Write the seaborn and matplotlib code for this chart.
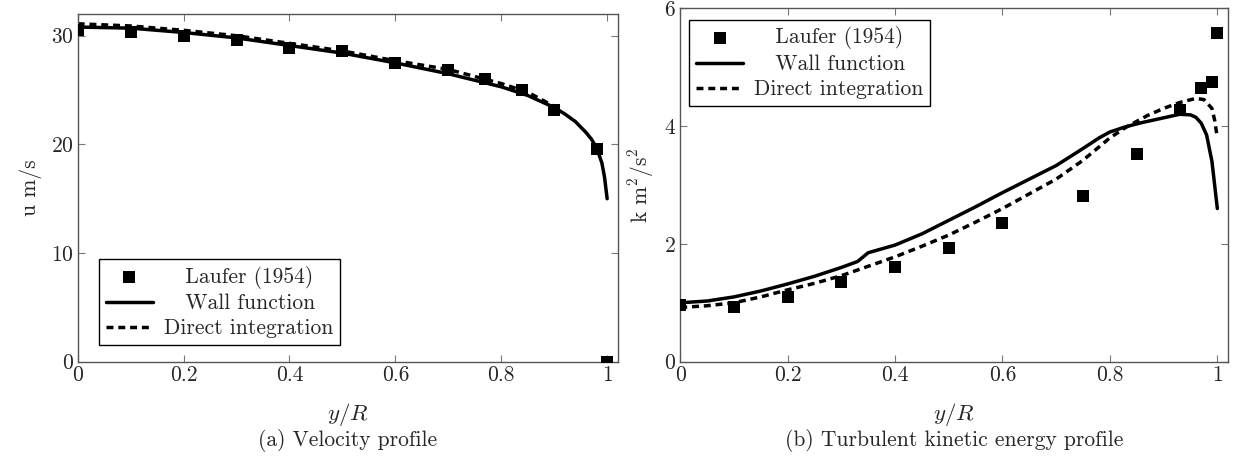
import numpy as np
import pandas as pd
import seaborn as sns
import matplotlib.pyplot as plt

# velocity profile (a)
u_exp_x = [0.0, 0.1, 0.2, 0.3, 0.4, 0.5, 0.6, 0.7, 0.77, 0.84, 0.9, 0.98, 1.0]
u_exp_y = [30.5, 30.3, 30.0, 29.6, 28.9, 28.6, 27.5, 26.8, 26.0, 25.0, 23.2, 19.6, 0.0]
u_wall_x = [0.0, 0.1, 0.2, 0.3, 0.4, 0.5, 0.6, 0.7, 0.8, 0.85, 0.9, 0.92, 0.94, 0.96, 0.97, 0.98, 0.99, 0.995, 1.0]
u_wall_y = [30.8, 30.7, 30.3, 29.8, 29.1, 28.4, 27.5, 26.5, 25.3, 24.5, 23.4, 22.8, 22.1, 21.1, 20.5, 19.7, 18.3, 17.0, 15.0]
u_di_x = [0.0, 0.1, 0.2, 0.3, 0.4, 0.5, 0.6, 0.7, 0.8, 0.85, 0.9]
u_di_y = [31.1, 30.9, 30.5, 30.0, 29.3, 28.6, 27.7, 26.9, 25.6, 24.8, 23.5]

# turbulent kinetic energy profile (b)
k_exp_x = [0.0, 0.1, 0.2, 0.3, 0.4, 0.5, 0.6, 0.75, 0.85, 0.93, 0.97, 0.99, 1.0]
k_exp_y = [0.97, 0.93, 1.1, 1.35, 1.6, 1.93, 2.35, 2.82, 3.53, 4.28, 4.65, 4.75, 5.58]
k_wall_x = [0.0, 0.05, 0.1, 0.15, 0.2, 0.25, 0.3, 0.33, 0.35, 0.4, 0.45, 0.5, 0.55, 0.6, 0.65, 0.7,
            0.75, 0.78, 0.8, 0.83, 0.86, 0.9, 0.93, 0.95, 0.96, 0.97, 0.98, 0.99, 0.995, 1.0]
k_wall_y = [1.0, 1.03, 1.1, 1.2, 1.32, 1.45, 1.6, 1.7, 1.85, 1.98, 2.17, 2.4, 2.63, 2.87, 3.1, 3.33,
            3.62, 3.8, 3.9, 3.99, 4.06, 4.14, 4.2, 4.19, 4.15, 4.05, 3.85, 3.4, 3.0, 2.6]
k_di_x = [0.0, 0.05, 0.1, 0.15, 0.2, 0.25, 0.3, 0.35, 0.4, 0.45, 0.5, 0.55, 0.6, 0.65, 0.7, 0.75,
          0.8, 0.83, 0.87, 0.9, 0.93, 0.96, 0.975, 0.99, 0.995, 1.0]
k_di_y = [0.92, 0.95, 1.0, 1.1, 1.22, 1.33, 1.46, 1.62, 1.78, 1.96, 2.15, 2.37, 2.6, 2.85, 3.1, 3.42,
          3.8, 3.98, 4.18, 4.3, 4.4, 4.47, 4.45, 4.3, 4.1, 3.8]

sns.set_style("ticks")
plt.rcParams["font.family"] = "serif"
plt.rcParams["font.serif"] = ["cmr10", "DejaVu Serif"]
plt.rcParams["mathtext.fontset"] = "cm"
plt.rcParams["axes.formatter.use_mathtext"] = True
plt.rcParams["font.size"] = 15.5

fig = plt.figure(figsize=(12.33, 4.59), dpi=100)
ax1 = fig.add_axes([0.063, 0.212, 0.438, 0.7575])
ax2 = fig.add_axes([0.5517, 0.212, 0.4443, 0.770])

lw = 2.5
fs = 15.5
dash = (2.0, 1.4)


def draw(ax, ex, ey, wx, wy, dx, dy):
    sns.scatterplot(x=ex, y=ey, ax=ax, marker="s", s=70, color="black",
                    edgecolor="black", linewidth=0, label="   Laufer (1954)", zorder=5)
    sns.lineplot(x=wx, y=wy, ax=ax, color="black", linewidth=lw,
                 label="   Wall function", sort=False)
    sns.lineplot(x=dx, y=dy, ax=ax, color="black", linewidth=lw,
                 label="Direct integration", sort=False)
    ax.lines[-1].set_dashes(dash)
    ax.set_xlim(0, 1.02)
    ax.set_xticks([0, 0.2, 0.4, 0.6, 0.8, 1])
    ax.set_xticklabels(["0", "0.2", "0.4", "0.6", "0.8", "1"])
    ax.tick_params(direction="in", top=True, right=True, length=5,
                   width=0.8, color="#777777", labelsize=fs, pad=3)
    for s in ax.spines.values():
        s.set_color("#555555")
        s.set_linewidth(1.0)
    ax.set_xlabel("$y/R$", fontsize=fs + 1, labelpad=11)


draw(ax1, u_exp_x, u_exp_y, u_wall_x, u_wall_y, u_di_x, u_di_y)
draw(ax2, k_exp_x, k_exp_y, k_wall_x, k_wall_y, k_di_x, k_di_y)

ax1.set_ylim(0, 32)
ax1.set_yticks([0, 10, 20, 30])
ax1.set_ylabel("u m/s", fontsize=fs, labelpad=6)
ax2.set_ylim(0, 6)
ax2.set_yticks([0, 2, 4, 6])
ax2.set_ylabel("k m$^2$/s$^2$", fontsize=fs, labelpad=6)

for ax, loc, anchor in [(ax1, "lower left", (0.028, 0.03)), (ax2, "upper left", (0.005, 0.985))]:
    leg = ax.legend(loc=loc, bbox_to_anchor=anchor, fontsize=fs, frameon=True,
                    fancybox=False, edgecolor="black", framealpha=1,
                    handlelength=2.2, handletextpad=0.5, borderpad=0.3,
                    labelspacing=0.25, borderaxespad=0.3)
    leg.get_frame().set_linewidth(1.0)
    leg.get_lines()[-1].set_dashes(dash)

fig.text(0.063 + 0.438 / 2, 1 - 441 / 459, "(a) Velocity profile", ha="center", va="center", fontsize=fs)
fig.text(0.5517 + 0.4443 / 2, 1 - 441 / 459, "(b) Turbulent kinetic energy profile", ha="center", va="center", fontsize=fs)

fig.savefig("out.png", dpi=100)
